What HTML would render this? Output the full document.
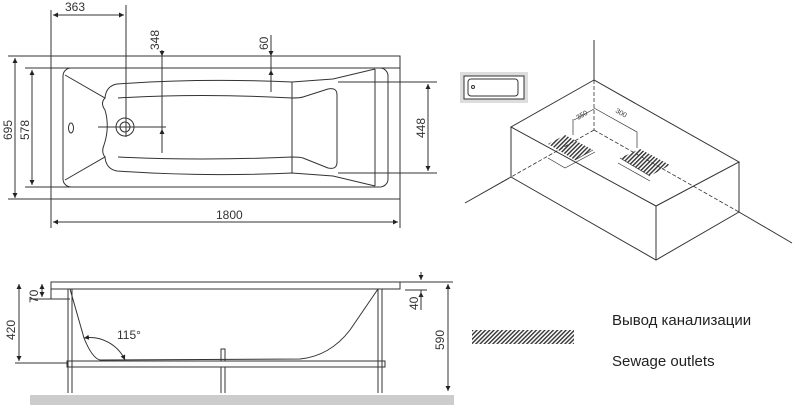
<!DOCTYPE html>
<html><head><meta charset="utf-8"><style>
html,body{margin:0;padding:0;background:#fff;}
svg{display:block;font-family:"Liberation Sans",sans-serif;}
</style></head><body>
<svg width="799" height="408" viewBox="0 0 799 408" xmlns="http://www.w3.org/2000/svg">
<defs>
<marker id="a" viewBox="0 0 6 6" refX="6" refY="3" markerWidth="5" markerHeight="5" orient="auto-start-reverse"><path d="M0,0L6,3L0,6z" fill="#222"/></marker>
<pattern id="h" width="3" height="3" patternUnits="userSpaceOnUse" patternTransform="rotate(45)"><rect width="1.4" height="3" fill="#333"/></pattern>
</defs>
<g stroke="#333" stroke-width="1" fill="none">
<!-- TOP VIEW -->
<rect x="51" y="56" width="349" height="143"/>
<line x1="25" y1="68" x2="400" y2="68"/>
<line x1="25" y1="187" x2="88" y2="187"/>
<line x1="8" y1="56" x2="62" y2="56"/>
<line x1="8" y1="199" x2="68" y2="199"/>
<line x1="51" y1="10" x2="51" y2="228"/>
<line x1="400" y1="199" x2="400" y2="228"/>
<line x1="126" y1="5" x2="126" y2="137"/>
<line x1="162" y1="50" x2="162" y2="153"/>
<line x1="271" y1="35" x2="271" y2="92"/>
<line x1="338" y1="82" x2="437" y2="82"/>
<line x1="338" y1="173" x2="437" y2="173"/>
<line x1="98" y1="127" x2="166" y2="127"/>
<line x1="15" y1="58" x2="15" y2="198" marker-start="url(#a)" marker-end="url(#a)"/>
<line x1="32" y1="70" x2="32" y2="185" marker-start="url(#a)" marker-end="url(#a)"/>
<line x1="53" y1="15" x2="124" y2="15" marker-start="url(#a)" marker-end="url(#a)"/>
<line x1="53" y1="222" x2="398" y2="222" marker-start="url(#a)" marker-end="url(#a)"/>
<line x1="428" y1="84" x2="428" y2="171" marker-start="url(#a)" marker-end="url(#a)"/>
<line x1="162" y1="50" x2="162" y2="56" marker-end="url(#a)"/>
<line x1="162" y1="135" x2="162" y2="129" marker-end="url(#a)"/>
<line x1="271" y1="48" x2="271" y2="56" marker-end="url(#a)"/>
<line x1="271" y1="76" x2="271" y2="70" marker-end="url(#a)"/>
<rect x="63" y="68" width="325" height="119" rx="8"/>
<path d="M65,75 L105,98 Q106,86 117,84 Q200,78 292,82 L333,79 L375,69"/>
<path d="M65,180 L105,157 Q106,169 117,171 Q200,177 292,173 L333,176 L375,186"/>
<path d="M105,98 Q100,103 105,110 Q110,127 104,145 Q101,152 105,157"/>
<path d="M118,98 Q200,93 292,98 Q300,98 303,97 L328,89 Q337,87 337,95 L337,162 Q337,170 328,168 L303,158 Q300,157 292,157 Q200,161 118,157"/>
<line x1="292" y1="82" x2="292" y2="173"/>
<line x1="375" y1="69" x2="375" y2="186"/>
<circle cx="125" cy="127" r="9"/><circle cx="125" cy="127" r="5"/>
<ellipse cx="71" cy="128" rx="2.5" ry="5"/>
<!-- SIDE VIEW -->
<rect x="51" y="282" width="349" height="7"/>
<path d="M51,289 L51,299 L70,299"/>
<line x1="15" y1="363" x2="67" y2="363"/>
<line x1="30" y1="299" x2="70" y2="299"/>
<line x1="400" y1="282" x2="453" y2="282"/>
<line x1="405" y1="290" x2="427" y2="290"/>
<rect x="67" y="361" width="318" height="6" fill="#fafafa"/>
<line x1="68" y1="289" x2="68" y2="393"/><line x1="72" y1="289" x2="72" y2="393"/>
<line x1="378" y1="289" x2="378" y2="393"/><line x1="382" y1="289" x2="382" y2="393"/>
<line x1="221" y1="367" x2="221" y2="393"/><line x1="225" y1="367" x2="225" y2="393"/>
<rect x="221" y="349" width="4" height="12"/>
<path d="M70,289 L84,338 Q92,358 100,360 L300,359 Q330,356 350,330 L378,289"/>
<path d="M84,338 A39,39 0 0 1 125,360" marker-start="url(#a)" marker-end="url(#a)"/>
<line x1="19" y1="284" x2="19" y2="361" marker-start="url(#a)" marker-end="url(#a)"/>
<line x1="42" y1="284" x2="42" y2="297" marker-start="url(#a)" marker-end="url(#a)"/>
<line x1="448" y1="284" x2="448" y2="391" marker-start="url(#a)" marker-end="url(#a)"/>
<line x1="421" y1="272" x2="421" y2="280" marker-end="url(#a)"/>
<line x1="421" y1="300" x2="421" y2="292" marker-end="url(#a)"/>
<line x1="421" y1="290" x2="421" y2="310"/>
<!-- 3D -->
<line x1="594" y1="40" x2="594" y2="80"/>
<path d="M594,80 L511,127 L656,206 L739,162 Z"/>
<path d="M511,127 L511,177 L656,260 L739,212 L739,162 M656,206 L656,260"/>
<line x1="465" y1="203" x2="511" y2="177"/>
<line x1="739" y1="212" x2="792" y2="243"/>
<g stroke-dasharray="4,2" stroke-width="0.8">
<line x1="594" y1="80" x2="594" y2="130"/>
<line x1="594" y1="130" x2="511" y2="177"/>
<line x1="594" y1="130" x2="739" y2="212"/>
</g>
<path d="M548,144 L565,135 L593,150 L575,160 Z" fill="url(#h)" stroke="none"/>
<path d="M620,158 L640,149 L670,165 L650,176 Z" fill="url(#h)" stroke="none"/>
<path d="M575,160 L593,150" stroke-width="0.7"/>
<path d="M620,158 L650,176" stroke-width="0.7"/>
<path d="M573,119 L573,135 M594,109 L574,120 M594,108 L637,132 L637,148" stroke-width="0.7"/>
<path d="M548,158 L565,168 L595,152 M618,163 L650,181" stroke-width="0.7"/>
<!-- thumbnail -->
<rect x="460" y="72" width="68" height="31" fill="#ddd" stroke="none"/>
<rect x="464" y="76" width="60" height="23" fill="#fff" stroke="#333"/>
<rect x="468" y="79" width="50" height="17" rx="3"/>
<circle cx="473" cy="87" r="1.5"/>
<!-- legend -->
<rect x="472" y="330" width="102" height="14" fill="url(#h)" stroke="none"/>
</g>
<rect x="30" y="395" width="424" height="10" fill="#ccc"/>
<g fill="#333" font-size="12">
<text x="65" y="11">363</text>
<text x="216" y="219">1800</text>
<text x="117" y="339">115°</text>
<text transform="translate(12,140) rotate(-90)">695</text>
<text transform="translate(29,140) rotate(-90)">578</text>
<text transform="translate(159,50) rotate(-90)">348</text>
<text transform="translate(268,50) rotate(-90)">60</text>
<text transform="translate(425,138) rotate(-90)">448</text>
<text transform="translate(15,340) rotate(-90)">420</text>
<text transform="translate(38,303) rotate(-90)">70</text>
<text transform="translate(418,310) rotate(-90)">40</text>
<text transform="translate(444,350) rotate(-90)">590</text>
<g font-size="7"><text transform="translate(578,120) rotate(-30)">350</text>
<text transform="translate(615,112) rotate(30)">300</text></g>
</g>
<g fill="#222" font-size="15"><text x="612" y="325">Вывод канализации</text><text x="612" y="366">Sewage outlets</text></g>
</svg>
</body></html>
